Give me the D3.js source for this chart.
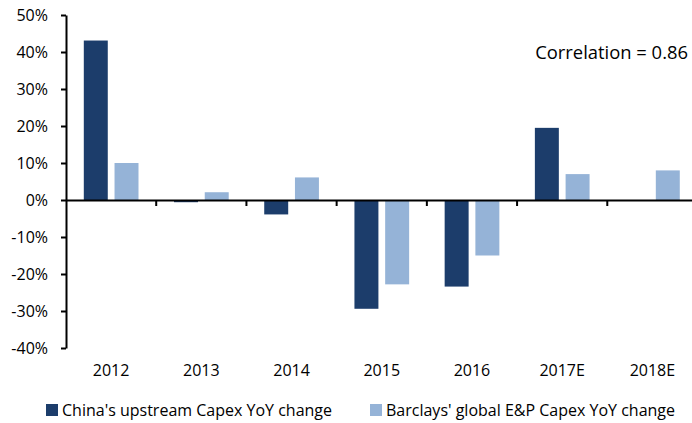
<!DOCTYPE html>
<html lang="en">
<head>
<meta charset="utf-8">
<title>Capex YoY change</title>
<script src="https://cdn.jsdelivr.net/npm/d3@7"></script>
<style>
  html, body { margin: 0; padding: 0; background: #fff; }
  text { font-family: "Open Sans", "Noto Sans", sans-serif; fill: #000; }
</style>
</head>
<body>
<div id="chart"></div>
<script>
// data
const categories = ["2012", "2013", "2014", "2015", "2016", "2017E", "2018E"];
const seriesNames = ["China's upstream Capex YoY change", "Barclays' global E&P Capex YoY change"];
const chinaCapex = [43.1, -0.6, -3.9, -29.4, -23.4, 19.5, null];
const barclaysCapex = [10.0, 2.1, 6.1, -22.8, -15.0, 7.0, 8.0];
const yTicks = [-40, -30, -20, -10, 0, 10, 20, 30, 40, 50];
const colors = ["#1c3d6b", "#95b3d7"];

var width = 692;
var height = 423;

var svg = d3.select("#chart").append("svg")
    .attr("width", width)
    .attr("height", height);

// scales
var x0 = d3.scaleBand()
    .domain(categories)
    .range([66, 697.5])
    .padding(0);

var x1 = d3.scaleBand()
    .domain([0, 1])
    .range([17.8, 72.5])
    .paddingInner(0.22);

var y = d3.scaleLinear()
    .domain([-40, 50])
    .range([348, 15]);

// bars
var rows = categories.map((c, i) => ({ cat: c, vals: [chinaCapex[i], barclaysCapex[i]] }));

var groups = svg.append("g").selectAll("g")
    .data(rows)
    .join("g")
    .attr("transform", d => "translate(" + x0(d.cat) + ",0)");

groups.selectAll("rect")
    .data(d => d.vals.map((v, k) => ({ k: k, v: v })).filter(d => d.v !== null))
    .join("rect")
    .attr("x", d => x1(d.k))
    .attr("width", x1.bandwidth())
    .attr("y", d => y(Math.max(0, d.v)))
    .attr("height", d => Math.abs(y(d.v) - y(0)))
    .attr("fill", d => colors[d.k]);

// y axis
var yAxis = svg.append("g")
    .attr("transform", "translate(66,0)")
    .call(d3.axisLeft(y).tickValues(yTicks).tickSize(5).tickSizeOuter(0).tickPadding(13)
        .tickFormat(d => d + "%"));
yAxis.select(".domain").attr("stroke", "#000").attr("stroke-width", 2);
yAxis.selectAll(".tick line").attr("stroke", "#000").attr("stroke-width", 2);
yAxis.selectAll(".tick text").attr("font-size", 16).attr("font-family", null);

// x axis at zero, labels at the bottom
var xAxis = svg.append("g")
    .attr("transform", "translate(0," + y(0) + ")")
    .call(d3.axisBottom(x0).tickSize(0).tickSizeOuter(0).tickFormat(""));
xAxis.select(".domain").attr("stroke", "#000").attr("stroke-width", 2);

// tick marks sit between the categories
svg.append("g").selectAll("line")
    .data(categories.slice(1))
    .join("line")
    .attr("x1", d => x0(d))
    .attr("x2", d => x0(d))
    .attr("y1", y(0))
    .attr("y2", y(0) + 6)
    .attr("stroke", "#000")
    .attr("stroke-width", 2);

svg.append("g").selectAll("text")
    .data(categories)
    .join("text")
    .attr("x", d => x0(d) + x0.bandwidth() / 2)
    .attr("y", 376)
    .attr("text-anchor", "middle")
    .attr("font-size", 16)
    .text(d => d);

// correlation note
svg.append("text")
    .attr("x", 688)
    .attr("y", 58.5)
    .attr("text-anchor", "end")
    .attr("font-size", 18.4)
    .text("Correlation = 0.86");

// legend
var legendX = [46, 370];
var legend = svg.append("g").selectAll("g")
    .data(seriesNames)
    .join("g")
    .attr("transform", (d, i) => "translate(" + legendX[i] + ",404)");

legend.append("rect")
    .attr("width", 12)
    .attr("height", 12)
    .attr("fill", (d, i) => colors[i]);

legend.append("text")
    .attr("x", 16)
    .attr("y", 11.5)
    .attr("font-size", 16)
    .text(d => d);
</script>
</body>
</html>
